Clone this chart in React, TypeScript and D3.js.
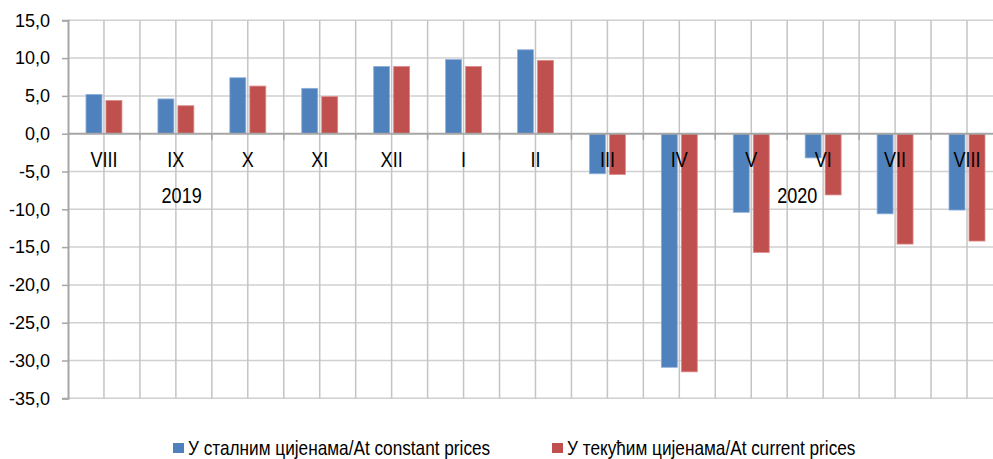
import React, { useEffect, useRef } from "react";
import * as d3 from "d3";

const categories = ["VIII", "IX", "X", "XI", "XII", "I", "II", "III", "IV", "V", "VI", "VII", "VIII "];
const constantPrices = [5.2, 4.6, 7.4, 6.0, 8.9, 9.8, 11.1, -5.3, -30.9, -10.4, -3.2, -10.6, -10.1];
const currentPrices = [4.4, 3.7, 6.3, 4.9, 8.9, 8.9, 9.7, -5.4, -31.5, -15.7, -8.1, -14.6, -14.2];
const yTicks = [15, 10, 5, 0, -5, -10, -15, -20, -25, -30, -35];
const seriesNames = ["У сталним цијенама/At constant prices", "У текућим цијенама/At current prices"];
const seriesColors = ["#4F81BD", "#C0504D"];
// year labels, anchored to a category plus an offset in bands
const years = [
  { label: "2019", cat: 1, off: 0.58 },
  { label: "2020", cat: 10, off: 0.14 },
];

const W = 993;
const H = 459;
const NARROW = 0.82; // no Arial Narrow here, squeeze Liberation Sans instead

export default function App() {
  const ref = useRef<SVGSVGElement>(null);

  useEffect(() => {
    const svg = d3.select(ref.current);
    svg.selectAll("*").remove();

    const left = 68;
    const bandW = 71.92;
    const x = d3
      .scaleBand()
      .domain(categories)
      .range([left, left + bandW * categories.length])
      .padding(0);
    const x1 = d3
      .scaleBand()
      .domain(["a", "b"])
      .range([0, x.bandwidth() / 2])
      .paddingInner(0.2);
    const y = d3.scaleLinear().domain([-35, 15]).range([398.3, 20.3]);
    const right = W;

    const g = svg.append("g");

    // horizontal grid
    g.selectAll(".hg")
      .data(yTicks.filter((d) => d !== 0))
      .enter()
      .append("line")
      .attr("x1", left)
      .attr("x2", right)
      .attr("y1", (d) => y(d))
      .attr("y2", (d) => y(d))
      .attr("stroke", "#d0d0d0")
      .attr("stroke-width", 1.5);

    // vertical grid at band edges and centers
    const vLines: number[] = [];
    categories.forEach((c) => {
      vLines.push(x(c)! + x.bandwidth() / 2);
      if (c !== categories[0]) vLines.push(x(c)!);
    });
    g.selectAll(".vg")
      .data(vLines)
      .enter()
      .append("line")
      .attr("x1", (d) => d)
      .attr("x2", (d) => d)
      .attr("y1", y(15))
      .attr("y2", y(-35))
      .attr("stroke", "#c4c4c4")
      .attr("stroke-width", 1.5);

    // bars
    const series = [constantPrices, currentPrices];
    series.forEach((vals, si) => {
      const key = si === 0 ? "a" : "b";
      g.selectAll(".bar" + si)
        .data(vals)
        .enter()
        .append("rect")
        .attr("x", (d, i) => x(categories[i])! + x.bandwidth() / 4 + x1(key)!)
        .attr("width", x1.bandwidth())
        .attr("y", (d) => y(Math.max(0, d)))
        .attr("height", (d) => Math.abs(y(d) - y(0)))
        .attr("fill", seriesColors[si])
        .attr("stroke", si === 0 ? "#8fb0dc" : "#dc8c8a")
        .attr("stroke-width", 0.8);
    });

    // y axis
    const yAxis = d3
      .axisLeft(y)
      .tickValues(yTicks)
      .tickSize(6)
      .tickFormat((d) => d3.format(".1f")(d as number).replace(".", ",").replace("−", "-"));
    const ya = g.append("g").attr("transform", `translate(${left},0)`).call(yAxis);
    ya.select(".domain").attr("stroke", "#a6a6a6").attr("stroke-width", 2);
    ya.selectAll(".tick line").attr("stroke", "#a6a6a6").attr("stroke-width", 1.5);
    ya.selectAll(".tick text")
      .attr("x", -18)
      .attr("fill", "#000")
      .style("font-family", "'Liberation Sans', Arial, sans-serif")
      .style("font-size", "18px");

    // zero line with ticks at band edges
    g.append("line")
      .attr("x1", left)
      .attr("x2", right)
      .attr("y1", y(0))
      .attr("y2", y(0))
      .attr("stroke", "#a6a6a6")
      .attr("stroke-width", 2);
    g.selectAll(".xt")
      .data(categories.slice(1))
      .enter()
      .append("line")
      .attr("x1", (c) => x(c)!)
      .attr("x2", (c) => x(c)!)
      .attr("y1", y(0))
      .attr("y2", y(0) + 6)
      .attr("stroke", "#a6a6a6")
      .attr("stroke-width", 1.5);

    const narrowText = (sel: any, size: number) =>
      sel
        .style("font-family", "'Liberation Sans', Arial, sans-serif")
        .style("font-size", size + "px")
        .attr("fill", "#000");

    // category labels
    narrowText(
      g.selectAll(".cl")
        .data(categories)
        .enter()
        .append("text")
        .attr("transform", (c) => `translate(${x(c)! + x.bandwidth() / 2},166.5) scale(${NARROW},1)`)
        .attr("text-anchor", "middle")
        .text((c) => c.trim()),
      22
    );

    narrowText(
      g.selectAll(".yr")
        .data(years)
        .enter()
        .append("text")
        .attr(
          "transform",
          (d) => `translate(${x(categories[d.cat])! + x.bandwidth() * d.off},203) scale(${NARROW},1)`
        )
        .attr("text-anchor", "middle")
        .text((d) => d.label),
      22
    );

    // legend
    const legendX = [173, 552];
    const lg = g
      .selectAll(".lg")
      .data(seriesNames)
      .enter()
      .append("g")
      .attr("transform", (d, i) => `translate(${legendX[i]},0)`);
    lg.append("rect")
      .attr("x", 0)
      .attr("y", 443)
      .attr("width", 11)
      .attr("height", 10)
      .attr("fill", (d, i) => seriesColors[i]);
    narrowText(
      lg.append("text")
        .attr("transform", `translate(15,455) scale(${NARROW},1)`)
        .text((d) => d),
      21
    );
  }, []);

  return (
    <div style={{ position: "absolute", left: 0, top: 0 }}>
      <svg ref={ref} width={W} height={H} style={{ display: "block", background: "#fff" }} />
    </div>
  );
}
